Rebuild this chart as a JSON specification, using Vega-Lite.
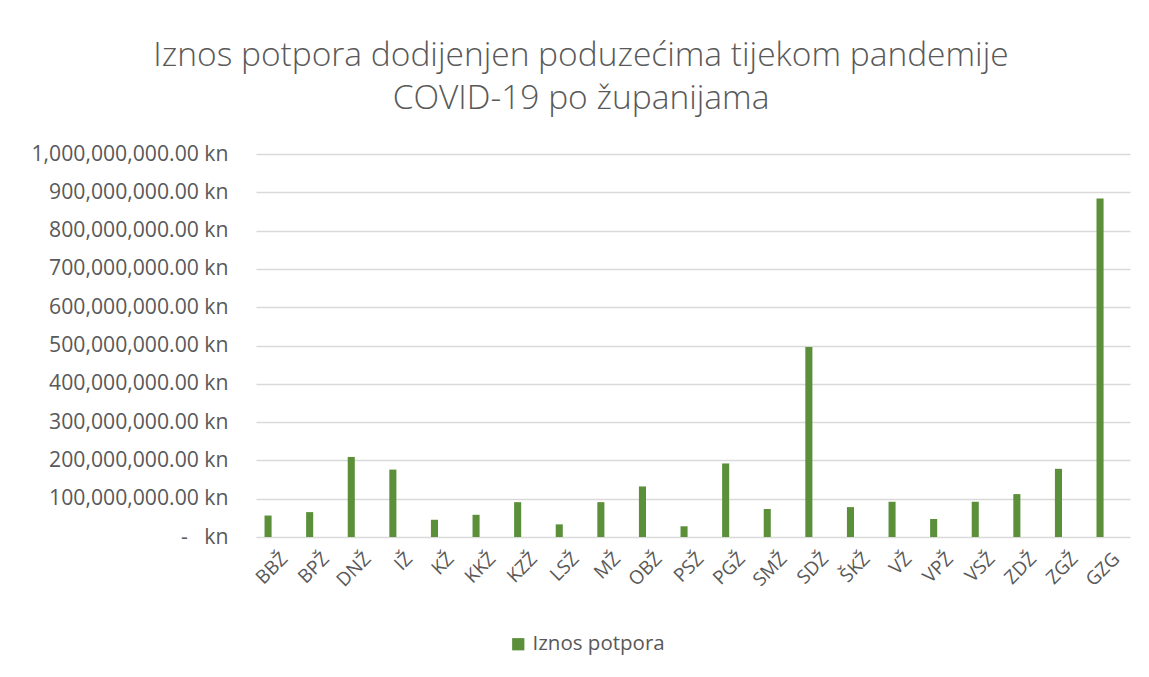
{
  "$schema": "https://vega.github.io/schema/vega-lite/v6.json",
  "autosize": "none",
  "width": 874,
  "height": 383,
  "padding": {"left": 256, "top": 154, "right": 19, "bottom": 140},
  "background": "white",
  "title": {
    "text": ["Iznos potpora dodijenjen poduzećima tijekom pandemije", "COVID-19 po županijama"],
    "font": "Open Sans",
    "fontSize": 33.5,
    "fontWeight": 300,
    "color": "#595959",
    "anchor": "middle",
    "frame": "group",
    "dx": -112,
    "offset": 27,
    "lineHeight": 43
  },
  "data": {
    "values": [
      {"zupanija": "BBŽ", "iznos": 56000000, "serija": "Iznos potpora"},
      {"zupanija": "BPŽ", "iznos": 65000000, "serija": "Iznos potpora"},
      {"zupanija": "DNŽ", "iznos": 209000000, "serija": "Iznos potpora"},
      {"zupanija": "IŽ", "iznos": 176000000, "serija": "Iznos potpora"},
      {"zupanija": "KŽ", "iznos": 45000000, "serija": "Iznos potpora"},
      {"zupanija": "KKŽ", "iznos": 58000000, "serija": "Iznos potpora"},
      {"zupanija": "KZŽ", "iznos": 91000000, "serija": "Iznos potpora"},
      {"zupanija": "LSŽ", "iznos": 33000000, "serija": "Iznos potpora"},
      {"zupanija": "MŽ", "iznos": 91000000, "serija": "Iznos potpora"},
      {"zupanija": "OBŽ", "iznos": 132000000, "serija": "Iznos potpora"},
      {"zupanija": "PSŽ", "iznos": 28000000, "serija": "Iznos potpora"},
      {"zupanija": "PGŽ", "iznos": 192000000, "serija": "Iznos potpora"},
      {"zupanija": "SMŽ", "iznos": 73000000, "serija": "Iznos potpora"},
      {"zupanija": "SDŽ", "iznos": 496000000, "serija": "Iznos potpora"},
      {"zupanija": "ŠKŽ", "iznos": 78000000, "serija": "Iznos potpora"},
      {"zupanija": "VŽ", "iznos": 92000000, "serija": "Iznos potpora"},
      {"zupanija": "VPŽ", "iznos": 47000000, "serija": "Iznos potpora"},
      {"zupanija": "VSŽ", "iznos": 92000000, "serija": "Iznos potpora"},
      {"zupanija": "ZDŽ", "iznos": 112000000, "serija": "Iznos potpora"},
      {"zupanija": "ZGŽ", "iznos": 178000000, "serija": "Iznos potpora"},
      {"zupanija": "GZG", "iznos": 884000000, "serija": "Iznos potpora"}
    ]
  },
  "mark": {"type": "bar"},
  "encoding": {
    "x": {
      "field": "zupanija",
      "type": "nominal",
      "sort": null,
      "title": null,
      "scale": {"paddingInner": 0.83, "paddingOuter": 0.42, "align": 0.244},
      "axis": {
        "labelAngle": -45,
        "labelFont": "Open Sans",
        "labelFontSize": 19,
        "labelColor": "#595959",
        "labelPadding": 12,
        "labelOffset": 10,
        "domain": false,
        "ticks": false,
        "grid": false
      }
    },
    "y": {
      "field": "iznos",
      "type": "quantitative",
      "title": null,
      "scale": {"domain": [0, 1000000000], "nice": false},
      "axis": {
        "values": [0, 100000000, 200000000, 300000000, 400000000, 500000000, 600000000, 700000000, 800000000, 900000000, 1000000000],
        "labelExpr": "datum.value == 0 ? '-\u00a0\u00a0\u00a0kn' : format(datum.value, ',.2f') + ' kn'",
        "labelFont": "Open Sans",
        "labelFontSize": 21.2,
        "labelLimit": 0,
        "labelColor": "#595959",
        "labelPadding": 28,
        "domain": false,
        "ticks": false,
        "grid": true,
        "gridColor": "#d9d9d9",
        "gridWidth": 1.5
      }
    },
    "color": {
      "field": "serija",
      "type": "nominal",
      "title": null,
      "scale": {"range": ["#5b8f3a"]},
      "legend": {
        "orient": "none",
        "legendX": 252,
        "legendY": 480,
        "symbolType": "square",
        "symbolSize": 150,
        "symbolStrokeWidth": 0,
        "labelFont": "Open Sans",
        "labelFontSize": 20.5,
        "labelColor": "#595959"
      }
    }
  },
  "config": {"view": {"stroke": null}}
}
